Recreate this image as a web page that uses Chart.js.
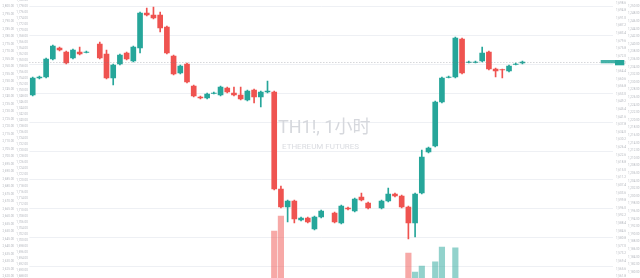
<!DOCTYPE html>
<html><head><meta charset="utf-8">
<script src="https://cdn.jsdelivr.net/npm/chart.js@4.4.0/dist/chart.umd.min.js"></script>
<style>html,body{margin:0;padding:0;background:#fff;overflow:hidden}#wrap{width:640px;height:278px;position:relative}</style>
</head><body><div id="wrap"><canvas id="c"></canvas></div>
<script>
// hourly categories (74 candles + empty space on the right)
const hours = ['09:00','10:00','11:00','12:00','13:00','14:00','15:00','16:00','17:00','18:00','19:00','20:00','21:00','22:00','23:00',
'00:00','01:00','02:00','03:00','04:00','05:00','06:00','07:00','08:00','09:00','10:00','11:00','12:00','13:00','14:00','15:00','16:00','17:00','18:00','19:00','20:00','21:00','22:00','23:00',
'00:00','01:00','02:00','03:00','04:00','05:00','06:00','07:00','08:00','09:00','10:00','11:00','12:00','13:00','14:00','15:00','16:00','17:00','18:00','19:00','20:00','21:00','22:00','23:00',
'00:00','01:00','02:00','03:00','04:00','05:00','06:00','07:00','08:00','09:00','10:00','11:00','12:00','13:00','14:00','15:00','16:00','17:00','18:00','19:00','20:00','21:00','22:00','23:00'];

const opens  = [1652.5,1661,1661.5,1670.5,1676,1674,1671,1674,1673.75,null,1678,1673,1661,1668,1673.5,1669.5,1676,1693.5,1692.5,1692.5,1686.5,1672,1663.5,1668,1657,1651.5,1651,1653.25,1652.5,1656,1653.5,1652.5,1650,1655,1651.5,1654,1654,1605.5,1596.5,1599.5,1590,1591,1585.5,1591.5,null,1593.5,1588.5,1596,1594.5,1601.5,1598.5,null,1596,1599.5,1603,1602,1596.5,1588.5,1603.5,1624,1627,1649,1661.25,1661.5,1680.5,1668.75,1668.75,1669.5,1674,1665.5,1665.25,1664.5,1667.75,1668.5];
const highs  = [1661.5,1662,1671,1677.5,1676.5,1674.5,1675.5,1676.5,1674.5,null,1679,1675,1668,1673,1674,1677,1694,1696,1696.5,1694,1687,1672.5,1667.5,1668.5,1657.5,1652,1653.5,1654,1657,1656.5,1656.5,1656.5,1655,1655.5,1654.5,1659.5,1654.5,1607,1600,1600,1591.5,1591.5,1592,1595,null,1594,1597.5,1596.5,1601,1603.5,1599,null,1600,1606,1603.5,1602.5,1597,1603.5,1625,1626.5,1649.5,1661.5,1662,1681.5,1681,1669.5,1669.5,1676.5,1674.5,1666,1665.5,1667.5,1668.5,1669.5];
const lows   = [1652,1660.5,1661,1670,1674.5,1668,1670.5,1672.5,1673.5,null,1670.5,1660.5,1657.5,1667.5,1670,1669,1673.5,1692,1690.5,1684,1673,1662.5,1663,1658.5,1651.5,1650.5,1650.5,1653,1652,1653.5,1652,1650,1649.5,1648.5,1646.5,1653.5,1605,1596,1589,1588.5,1589.5,1588.5,1585,1591,null,1588.5,1588,1595,1594,1599.5,1595.5,null,1595.5,1599,1601.5,1596,1580.5,1581.5,1603,1623.5,1626.5,1648.5,1661,1661,1663,1668.5,1668.5,1669,1665,1661.5,1661,1664,1667.5,1668];
const closes = [1661,1661.5,1670.5,1677,1675,1668.5,1675,1673,1674,null,1671,1661,1667.5,1672.5,1670.5,1676.5,1693.5,1692.5,1691,1686,1673.5,1663,1667,1659,1652,1651,1653,1653.5,1656.5,1654,1652.5,1650.5,1654.5,1651.5,1654,1654.5,1605.5,1596.5,1599.5,1590.5,1591,1589,1591.5,1594.5,null,1589,1597,1595.5,1600.5,1600,1596,null,1599.5,1603,1602,1596.5,1588.5,1603,1621.5,1626,1649,1661,1661.5,1681,1663.5,1669,1669,1673.5,1665.5,1664.5,1665,1667,1668,1669];
const volumes = [2.1,1.4,2.3,2.5,1.5,2.2,1.8,1.6,1.2,null,2.0,2.6,2.2,1.7,1.5,1.9,2.8,1.9,1.7,2.4,2.7,2.5,1.6,2.4,2.1,1.3,1.4,1.1,1.6,1.4,1.5,1.7,1.6,1.8,1.9,1.6,19.4,24.6,2.9,2.6,1.6,1.5,2.0,1.8,null,1.7,2.2,1.3,1.9,1.8,1.6,null,1.5,1.9,1.4,2.0,11.7,5.1,7.2,2.8,8.6,13.8,2.5,13.5,2.9,2.0,1.8,2.1,2.4,1.7,1.5,1.6,1.3,1.4];

const symbolText = 'TH1!, 1小时';
const subtitleText = 'ETHEREUM FUTURES';

const UP = '#26a69a', DOWN = '#ef5350';
const UP_V = 'rgba(38,166,154,0.5)', DOWN_V = 'rgba(239,83,80,0.5)';
const candleColors = opens.map((o,i) => o == null ? UP : (closes[i] >= o ? UP : DOWN));
const volColors = opens.map((o,i) => o == null ? UP_V : (closes[i] >= o ? UP_V : DOWN_V));

const fmt = v => Number(v).toLocaleString('en-US',{minimumFractionDigits:2,maximumFractionDigits:2});
const tickFont = {size:3, family:'Roboto, sans-serif'};
const tickColor = '#b4b7be';

function labelAxis(position, weight, min, max, step, width, pad) {
  return {
    type:'linear', position, weight, min, max,
    grid:{display:false, drawTicks:false}, border:{display:false},
    ticks:{stepSize:step, includeBounds:false, autoSkip:false, font:tickFont, color:tickColor, padding:pad, callback:fmt},
    afterFit(s){ s.width = width; s.paddingTop = 0; s.paddingBottom = 0; }
  };
}

const watermark = {
  id:'watermark',
  beforeDatasetsDraw(chart){
    const ctx = chart.ctx; ctx.save();
    ctx.fillStyle = '#d6d8dd';
    ctx.textBaseline = 'alphabetic'; ctx.textAlign = 'left';
    ctx.font = '18px Roboto, "Noto Sans CJK SC", sans-serif';
    ctx.fillText(symbolText, 278, 132.5);
    ctx.fillStyle = '#dadce1';
    ctx.font = '8px Roboto, sans-serif';
    ctx.fillText(subtitleText, 282, 148.5);
    ctx.restore();
  }
};

const priceLine = {
  id:'priceLine',
  afterDatasetsDraw(chart){
    const ctx = chart.ctx, a = chart.chartArea;
    const last = closes[closes.length-1];
    const y = Math.round(chart.scales.y.getPixelForValue(last)) + 0.5;
    ctx.save();
    ctx.strokeStyle = 'rgba(120,123,134,0.45)'; ctx.lineWidth = 1; ctx.setLineDash([1,2]);
    ctx.beginPath(); ctx.moveTo(a.left, y); ctx.lineTo(a.right + 2, y); ctx.stroke();
    ctx.restore();
  },
  afterDraw(chart){
    const ctx = chart.ctx, a = chart.chartArea;
    const last = closes[closes.length-1];
    const y = chart.scales.y.getPixelForValue(last);
    ctx.save();
    ctx.fillStyle = 'rgba(38,166,154,0.85)';
    ctx.fillRect(a.right - 12.3, y - 2, 14.3, 3.3);
    ctx.fillStyle = UP;
    ctx.fillRect(a.right + 2, y - 2, 9.3, 5.3);
    ctx.restore();
  }
};

new Chart(document.getElementById('c'), {
  type:'bar',
  data:{
    labels: hours,
    datasets:[
      {label:'body', data: opens.map((o,i)=> o==null ? null : [o, closes[i]]), backgroundColor:candleColors, barThickness:5, grouped:false, yAxisID:'y', borderWidth:0},
      {label:'wick', data: lows.map((l,i)=> l==null ? null : [l, highs[i]]), backgroundColor:candleColors, barThickness:1, grouped:false, yAxisID:'y', borderWidth:0},
      {label:'volume', data: volumes, backgroundColor:volColors, barThickness:5.5, grouped:false, yAxisID:'yV', borderWidth:0}
    ]
  },
  options:{
    responsive:true, maintainAspectRatio:false, animation:false,
    layout:{padding:0},
    plugins:{legend:{display:false}, tooltip:{enabled:false}, title:{display:false}},
    scales:{
      x:{type:'category', offset:true, grid:{display:false, drawTicks:false}, border:{display:false}, ticks:{display:false},
         afterFit(s){ s.height = 0; s.paddingLeft = 0; s.paddingRight = 0; }},
      yG:{type:'linear', position:'right', weight:0, min:-11.8, max:266.2,
          grid:{color:'#eef0f4', drawTicks:false}, border:{display:false},
          ticks:{display:false, stepSize:28.8, includeBounds:false},
          afterFit(s){ s.width = 0; s.paddingTop = 0; s.paddingBottom = 0; }},
      y: labelAxis('right', 1, 1561, 1700, 3.8, 13, 3),
      yR2: labelAxis('right', 2, 1178.421, 1251.579, 2, 14, 2),
      yL2: labelAxis('left', 1, 1687.567, 1780.233, 2, 14.35, 1.5),
      yL1: labelAxis('left', 2, 2619.133, 2804.467, 5, 15, 1),
      yV:{type:'linear', display:false, min:3, max:100}
    }
  },
  plugins:[watermark, priceLine]
});
</script>
</body></html>
